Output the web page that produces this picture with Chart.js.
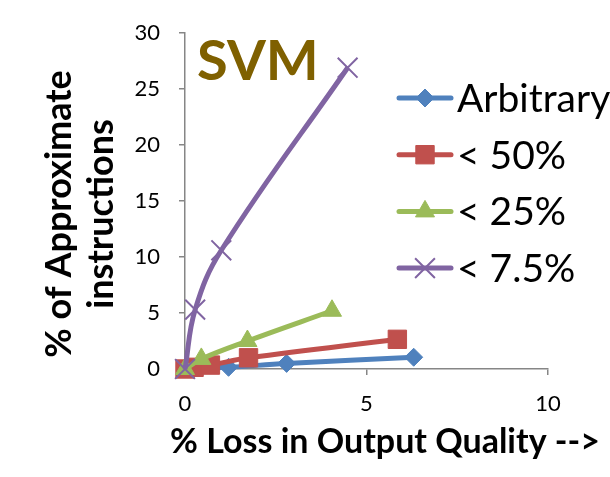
<!DOCTYPE html>
<html>
<head>
<meta charset="utf-8">
<script src="https://cdn.jsdelivr.net/npm/chart.js@4.4.1/dist/chart.umd.min.js"></script>
<style>
  html, body { margin: 0; padding: 0; background: #fff; }
  #wrap { width: 610px; height: 477px; position: relative; }
</style>
</head>
<body>
<div id="wrap"><canvas id="svmChart"></canvas></div>
<script>
// Dados
const seriesNames = ["Arbitrary", "< 50%", "< 25%", "< 7.5%"];
const arbitraryX = [0, 1.2, 2.8, 6.3];
const arbitraryY = [0, 0.15, 0.5, 1.05];
const below50X = [0, 0.25, 0.7, 1.75, 5.85];
const below50Y = [0, 0.15, 0.35, 1.0, 2.65];
const below25X = [0, 0.45, 1.72, 4.05];
const below25Y = [0, 0.9, 2.5, 5.2];
const below7X = [0, 0.28, 1.0, 4.48];
const below7Y = [0, 5.3, 10.6, 26.9];
const xTicks = [0, 5, 10];
const yTicks = [0, 5, 10, 15, 20, 25, 30];

const FONT = "Lato, Calibri, 'Liberation Sans', sans-serif";
const AXIS = "#868686";
const colors = ["#4F81BD", "#C0504D", "#9BBB59", "#8064A2"];
const styles = ["rectRot", "rect", "triangle", "crossRot"];
const radii = [9, 13, 11, 14];

const toPoints = (xs, ys) => xs.map((x, i) => ({ x, y: ys[i] }));
const seriesData = [
  toPoints(arbitraryX, arbitraryY),
  toPoints(below50X, below50Y),
  toPoints(below25X, below25Y),
  toPoints(below7X, below7Y)
];

// Título, títulos dos eixos e legenda desenhados por cima
const overlayPlugin = {
  id: "overlay",
  afterDraw(chart) {
    const ctx = chart.ctx;
    ctx.save();

    ctx.fillStyle = "#7F6000";
    ctx.font = `bold 56px ${FONT}`;
    ctx.textAlign = "left";
    ctx.textBaseline = "alphabetic";
    ctx.fillText("SVM", 197, 80);

    // títulos dos eixos
    ctx.fillStyle = "#000";
    ctx.font = `bold 34px ${FONT}`;
    ctx.textAlign = "center";
    ctx.fillText("% Loss in Output Quality -->", 385, 453);

    ctx.save();
    ctx.translate(71, 214);
    ctx.rotate(-Math.PI / 2);
    ctx.font = `bold 36px ${FONT}`;
    ctx.fillText("% of Approximate", 0, 0);
    ctx.fillText("instructions", 0, 42);
    ctx.restore();

    // legenda
    chart.data.datasets.forEach((ds, i) => {
      const y = 98 + i * 56.7;
      ctx.strokeStyle = ds.borderColor;
      ctx.lineWidth = 5;
      ctx.lineCap = "round";
      ctx.beginPath();
      ctx.moveTo(399, y);
      ctx.lineTo(451, y);
      ctx.stroke();

      ctx.fillStyle = ds.backgroundColor;
      ctx.strokeStyle = ds.borderColor;
      ctx.lineWidth = ds.pointBorderWidth;
      ctx.lineCap = "butt";
      Chart.helpers.drawPoint(ctx, {
        pointStyle: ds.pointStyle, radius: ds.pointRadius, rotation: 0, borderWidth: ds.pointBorderWidth
      }, 425, y);

      ctx.fillStyle = "#000";
      ctx.font = `39px ${FONT}`;
      ctx.textAlign = "left";
      ctx.fillText(ds.label, 457, y + 14);
    });
    ctx.restore();
  }
};

const datasets = seriesNames.map((name, i) => ({
  label: name,
  data: seriesData[i],
  showLine: true,
  tension: 0.4,
  borderColor: colors[i],
  backgroundColor: colors[i],
  borderWidth: 5,
  pointStyle: styles[i],
  pointRadius: radii[i],
  pointHoverRadius: radii[i],
  pointBorderWidth: styles[i] === "crossRot" ? 2 : 1,
  order: 3 - i,
  clip: false
}));

new Chart(document.getElementById("svmChart"), {
  type: "scatter",
  data: { datasets },
  options: {
    responsive: true,
    maintainAspectRatio: false,
    animation: false,
    devicePixelRatio: 1,
    layout: { padding: { top: 33, right: 62, left: 0, bottom: 0 } },
    plugins: { legend: { display: false }, tooltip: { enabled: false } },
    scales: {
      x: {
        type: "linear",
        min: 0,
        max: 10,
        afterBuildTicks: s => { s.ticks = xTicks.map(v => ({ value: v })); },
        afterFit: s => { s.height = 108; },
        grid: { drawOnChartArea: false, tickLength: 6, color: AXIS, lineWidth: 1.5 },
        border: { color: AXIS, width: 1.5 },
        ticks: { color: "#000", font: { family: FONT, size: 22 }, padding: 16, maxRotation: 0, autoSkip: false }
      },
      y: {
        type: "linear",
        min: 0,
        max: 30,
        afterBuildTicks: s => { s.ticks = yTicks.map(v => ({ value: v })); },
        afterFit: s => { s.width = 185; },
        grid: { drawOnChartArea: false, tickLength: 6, color: AXIS, lineWidth: 1.5 },
        border: { color: AXIS, width: 1.5 },
        ticks: { color: "#000", font: { family: FONT, size: 22 }, padding: 19, autoSkip: false }
      }
    }
  },
  plugins: [overlayPlugin]
});
</script>
</body>
</html>
